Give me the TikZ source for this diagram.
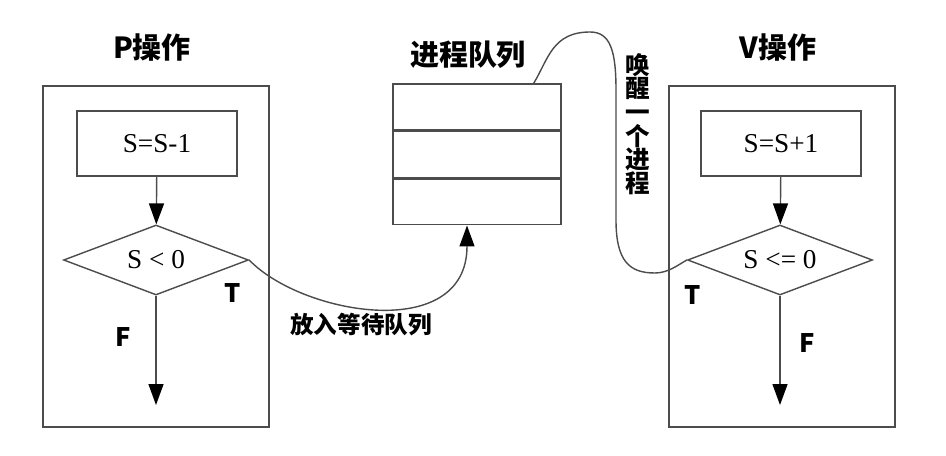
\documentclass[tikz,border=0pt]{standalone}
\usepackage{fontspec}
\usepackage{tikz}
\usetikzlibrary{shapes.geometric,arrows.meta,positioning}
\setmainfont{Liberation Serif}
\newfontfamily\cjk{Noto Sans CJK SC}

\tikzset{
  line/.style={draw=black!70,line width=0.8pt},
  tip/.style={-{Triangle[length=0.42cm,width=0.3cm,black]}},
  frame/.style={line,rectangle,minimum width=4.52cm,minimum height=6.82cm},
  opbox/.style={line,rectangle,minimum width=3.2cm,minimum height=1.3cm,font=\fontsize{15.5}{18}\selectfont},
  test/.style={line,diamond,aspect=2.6,inner sep=0pt,minimum width=3.7cm,minimum height=1.4cm,font=\fontsize{15.5}{18}\selectfont},
  cell/.style={line,rectangle,minimum width=3.36cm,minimum height=0.92cm},
  title/.style={font=\cjk\bfseries\fontsize{16.5}{19}\selectfont},
  branch/.style={font=\cjk\bfseries\fontsize{14.5}{17}\selectfont},
  note/.style={font=\cjk\bfseries\fontsize{13.4}{15}\selectfont}
}

\begin{document}
\begin{tikzpicture}[x=0.02cm,y=-0.02cm]
  \useasboundingbox (0,0) rectangle (946,456);
  % P operation
  \node[title] (ptitle) at (152,48) {P操作};
  \node[frame] (pbox) at (156,256.5) {};
  \node[opbox] (pinc) at (157,143.5) {S=S-1};
  \node[test] (pdec) at (156,260) {S < 0};
  \coordinate (pend) at (156,405);
  \node[branch] (pt) at (233,293) {T};
  \node[branch] (pf) at (123,337) {F};
  % queue
  \node[title] (qtitle) at (468,55) {进程队列};
  \node[cell] (q1) at (477,107) {};
  \node[cell,below=0pt of q1] (q2) {};
  \node[cell,below=0pt of q2] (q3) {};
  % V operation
  \node[title] (vtitle) at (778,48) {V操作};
  \node[frame] (vbox) at (782,256.5) {};
  \node[opbox] (vinc) at (781,143.5) {S=S+1};
  \node[test] (vdec) at (780,260) {S <= 0};
  \coordinate (vend) at (780,405);
  \node[branch] (vt) at (693,295) {T};
  \node[branch] (vf) at (807,343) {F};
  % links
  \coordinate (wait) at ([xshift=-0.2cm]q3.south);
  \coordinate (wake) at ([xshift=-0.56cm]q1.north east);
  \node[note] (put) at (361,325) {放入等待队列};
  \node[note,align=center,font=\cjk\bfseries\fontsize{14}{13.4}\selectfont] (up) at (638,124)
    {唤\\醒\\一\\个\\进\\程};
  \path[line,tip]
    (pinc) edge (pdec)
    (pdec) edge (pend)
    (vinc) edge (vdec)
    (vdec) edge (vend);
  \draw[line,tip] (pdec.east) .. controls +(53,55) and +(0,118) .. (wait);
  \draw[line] (wake) .. controls (548,60) and (552,32) .. (590,32)
    .. controls (610,32) and (616,50) .. (616,90) -- (616,220)
    .. controls (616,262) and (630,273) .. (655,273)
    .. controls (668,273) and (678,265) .. (vdec.west);
\end{tikzpicture}
\end{document}
